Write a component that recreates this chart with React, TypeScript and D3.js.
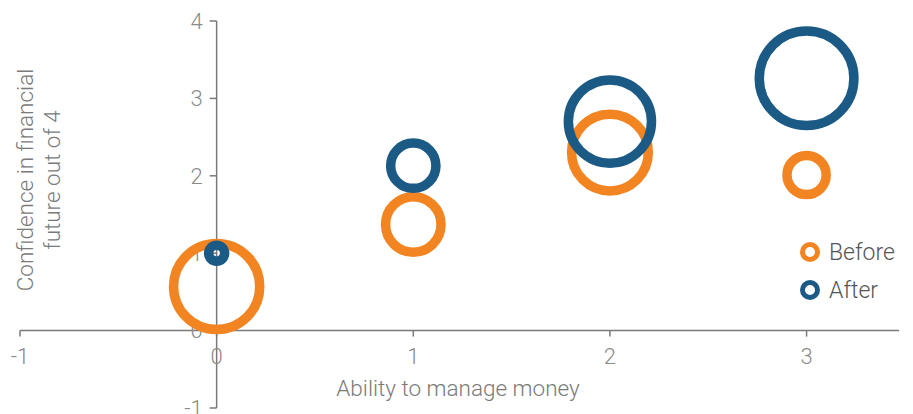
import React from "react";
import * as d3 from "d3";

const xValues = [0, 1, 2, 3];
const beforeY = [0.57, 1.37, 2.3, 2.01];
const beforeSize = [29, 12, 23, 6];
const afterY = [1.0, 2.13, 2.7, 3.26];
const afterSize = [1, 8, 27, 35];
const xTicks = [-1, 0, 1, 2, 3];
const yTicks = [-1, 0, 1, 2, 3, 4];
const seriesNames = ["Before", "After"];
const colors = ["#F28522", "#1B5A85"];

const W = 913;
const H = 414;
const FONT = "Roboto, 'Liberation Sans', Arial, sans-serif";

export default function App() {
  const x = d3.scaleLinear().domain([-1, 3.47]).range([20, 899]);
  const y = d3.scaleLinear().domain([-1, 4]).range([408, 21]);
  const r = d3.scaleSqrt().domain([0, 1]).range([0, 8]);
  const axisColor = "#7a7a7a";
  const tickText = "#8a8a8a";
  const x0 = x(0);
  const y0 = y(0);

  const series = [
    { name: seriesNames[0], ys: beforeY, sizes: beforeSize, color: colors[0] },
    { name: seriesNames[1], ys: afterY, sizes: afterSize, color: colors[1] },
  ];

  return (
    <svg
      width={W}
      height={H}
      style={{ position: "absolute", left: 0, top: 0 }}
      fontFamily={FONT}
    >
      {/* axes */}
      <line x1={x(-1)} x2={x(3.47)} y1={y0} y2={y0} stroke={axisColor} strokeWidth={1.5} />
      <line x1={x0} x2={x0} y1={y(4)} y2={y(-1)} stroke={axisColor} strokeWidth={1.5} />
      {xTicks.map((t) => (
        <g key={"xt" + t}>
          <line x1={x(t)} x2={x(t)} y1={y0} y2={y0 + 6} stroke={axisColor} strokeWidth={1.5} />
          <text
            x={x(t)}
            y={y0 + 26}
            dy="0.35em"
            textAnchor="middle"
            fontSize={22}
            fontWeight={300}
            fill={tickText}
          >
            {t}
          </text>
        </g>
      ))}
      {yTicks.map((t) => (
        <g key={"yt" + t}>
          <line x1={x0 - 7} x2={x0} y1={y(t)} y2={y(t)} stroke={axisColor} strokeWidth={1.5} />
          <text
            x={x0 - 14}
            y={y(t)}
            dy="0.35em"
            textAnchor="end"
            fontSize={22}
            fontWeight={300}
            fill={tickText}
          >
            {t}
          </text>
        </g>
      ))}
      {/* bubbles */}
      {series.map((s) =>
        xValues.map((xv, i) => (
          <circle
            key={s.name + i}
            cx={x(xv)}
            cy={y(s.ys[i])}
            r={r(s.sizes[i])}
            fill="none"
            stroke={s.color}
            strokeWidth={9.5}
          />
        ))
      )}
      {/* axis titles */}
      <text
        x={458}
        y={396}
        textAnchor="middle"
        fontSize={22.5}
        fontWeight={300}
        fill="#7a7a7a"
      >
        Ability to manage money
      </text>
      <text
        transform="translate(33,180) rotate(-90)"
        textAnchor="middle"
        fontSize={22.5}
        fontWeight={300}
        fill="#7a7a7a"
      >
        <tspan x={0} y={0}>Confidence in financial</tspan>
        <tspan x={0} y={27}>future out of 4</tspan>
      </text>
      {/* legend */}
      {series.map((s, i) => (
        <g key={"lg" + s.name} transform={`translate(810,${252 + i * 38})`}>
          <circle r={7.5} fill="none" stroke={s.color} strokeWidth={5} />
          <text x={19} y={0} dy="0.35em" fontSize={23} fontWeight={300} fill="#555">
            {s.name}
          </text>
        </g>
      ))}
    </svg>
  );
}
